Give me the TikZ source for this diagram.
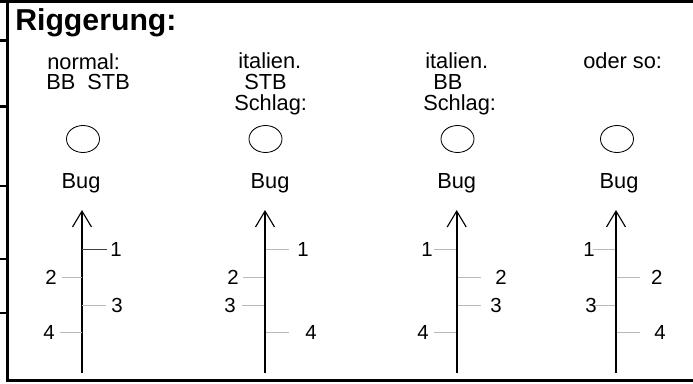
\documentclass[tikz,border=0pt]{standalone}
\usepackage{fontspec}
\setmainfont{Liberation Sans}
\usetikzlibrary{arrows.meta,shapes.geometric}
\begin{document}
\begin{tikzpicture}[x=0.025cm,y=-0.025cm]
\tikzset{
	t/.style={anchor=base west, inner sep=0pt, font=\fontsize{15.5}{15.5}\selectfont},
	b/.style={anchor=base, inner sep=0pt, font=\fontsize{15.5}{15.5}\selectfont},
	n/.style={inner sep=0pt, font=\fontsize{14.5}{14.5}\selectfont},
	ring/.style={ellipse, draw=black, line width=0.6pt, minimum width=0.825cm, minimum height=0.675cm, inner sep=0pt},
	axis/.style={line width=1.4pt, -{Straight Barb[length=11.3pt, width=13.5pt, line width=0.8pt]}},
	tick/.style={draw=gray!55, line width=0.6pt},
	rahmen/.style={line width=2.1pt}
}
\useasboundingbox (0,0) rectangle (693,383);

% Rahmen
\draw[rahmen] (0,1.5) -- (693,1.5);
\draw[rahmen] (7.3,0) -- (7.3,381.5);
\draw[rahmen] (7.3,380.5) -- (693,380.5);
\draw[rahmen] (0,40.5) -- (7.3,40.5);
\draw[rahmen] (0,106.5) -- (7.3,106.5);
\draw[rahmen] (0,186) -- (7.3,186);
\draw[rahmen] (0,259) -- (7.3,259);
\draw[rahmen] (0,313) -- (7.3,313);

% Titel
\node[anchor=base west, inner sep=0pt, font=\fontsize{21.5}{21.5}\selectfont\bfseries] (titel) at (15,30) {Riggerung:};

% normal
\node[t] (t_11) at (47,69) {normal:};
\node[t] (t_12) at (46,89) {BB\ \ STB};
\node[ring] (c_1) at (83,139) {};
\node[b] (b_1) at (81,188) {Bug};
\coordinate (u_1) at (82,373);
\coordinate (o_1) at (82,210);
\draw[axis] (u_1) -- (o_1);
\draw[tick, draw=black!75, line width=1pt] (82,249.5) -- (106.5,249.5);
\draw[tick] (82,277.5) -- (61.5,277.5);
\draw[tick] (82,305) -- (106,305);
\draw[tick] (82,332) -- (59.5,332);
\node[n] (n_11) at (116,249.5) {1};
\node[n] (n_12) at (51,277.5) {2};
\node[n] (n_13) at (117,305) {3};
\node[n] (n_14) at (49,332) {4};

% italien. STB Schlag
\node[t] (t_21) at (238,68) {italien.};
\node[t] (t_22) at (244,89) {STB};
\node[t] (t_23) at (234,110) {Schlag:};
\node[ring] (c_2) at (265.5,139) {};
\node[b] (b_2) at (270,188) {Bug};
\coordinate (u_2) at (265,373);
\coordinate (o_2) at (265,210);
\draw[axis] (u_2) -- (o_2);
\draw[tick] (266,249.5) -- (289,249.5);
\draw[tick] (264,277.5) -- (242.5,277.5);
\draw[tick] (264,305) -- (241.5,305);
\draw[tick] (266,332) -- (289,332);
\node[n] (n_21) at (303,249.5) {1};
\node[n] (n_22) at (233,277.5) {2};
\node[n] (n_23) at (230,305) {3};
\node[n] (n_24) at (311,332) {4};

% italien. BB Schlag
\node[t] (t_31) at (425,68) {italien.};
\node[t] (t_32) at (433,89) {BB};
\node[t] (t_33) at (423,110) {Schlag:};
\node[ring] (c_3) at (457.5,139) {};
\node[b] (b_3) at (456.7,188) {Bug};
\coordinate (u_3) at (456.7,373);
\coordinate (o_3) at (456.7,210);
\draw[axis] (u_3) -- (o_3);
\draw[tick] (455.5,249.5) -- (434,249.5);
\draw[tick] (458,277.5) -- (480.5,277.5);
\draw[tick] (458,305) -- (480.5,305);
\draw[tick] (455.5,332) -- (434,332);
\node[n] (n_31) at (427,249.5) {1};
\node[n] (n_32) at (501,277.5) {2};
\node[n] (n_33) at (496,305) {3};
\node[n] (n_34) at (423,332) {4};

% oder so
\node[t] (t_41) at (583,68) {oder so:};
\node[ring] (c_4) at (617,139) {};
\node[b] (b_4) at (619,188) {Bug};
\coordinate (u_4) at (616,373);
\coordinate (o_4) at (616,210);
\draw[axis] (u_4) -- (o_4);
\draw[tick] (615,249.5) -- (593,249.5);
\draw[tick] (617,277.5) -- (640,277.5);
\draw[tick] (615,305) -- (593,305);
\draw[tick] (617,332) -- (640,332);
\node[n] (n_41) at (589,249.5) {1};
\node[n] (n_42) at (656.7,277.5) {2};
\node[n] (n_43) at (591,305) {3};
\node[n] (n_44) at (660,332) {4};

\end{tikzpicture}
\end{document}
